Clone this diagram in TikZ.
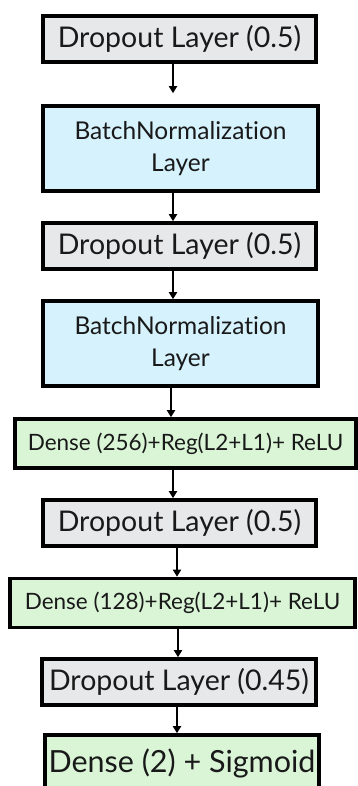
\documentclass[tikz,border=0pt]{standalone}
\usepackage{fontspec}
\setmainfont{Lato}[Ligatures=NoCommon]
\usetikzlibrary{arrows.meta}
\definecolor{dropgray}{HTML}{E7E8EA}
\definecolor{normblue}{HTML}{D5F2FD}
\definecolor{densegreen}{HTML}{D9F5D6}
\tikzset{layer/.style={draw=black,line width=3.6pt,inner sep=0pt,text=black!90}}
\begin{document}
\begin{tikzpicture}[x=1pt,y=-1pt,
    droplayer/.style={layer,fill=dropgray,minimum width=273pt,minimum height=46pt,font=\fontsize{28.5}{30}\selectfont},
    normlayer/.style={layer,fill=normblue,minimum width=275pt,minimum height=85pt,align=center,font=\fontsize{24.5}{32}\selectfont},
    denselayer/.style={layer,fill=densegreen,minimum height=49pt,font=\fontsize{22.5}{24}\selectfont},
    flow/.style={line width=2pt,-{Triangle[width=8pt,length=7pt]}}]
                \clip (0,0) rectangle (358,786);
                \fill[white] (0,0) rectangle (358,786);
                \node [droplayer] (drop1) at (179.5,39) {Dropout Layer (0.5)};
                \node [normlayer] (norm1) at (180.5,148.5) {BatchNormalization\\Layer};
                \node [droplayer] (drop2) at (179.5,246) {Dropout Layer (0.5)};
                \node [normlayer] (norm2) at (180.5,343.5) {BatchNormalization\\Layer};
                \node [denselayer,minimum width=341pt] (dense1) at (185.5,443.5) {Dense (256)+Reg(L2+L1)+ ReLU};
                \node [droplayer] (drop3) at (179.5,523) {Dropout Layer (0.5)};
                \node [denselayer,minimum width=345pt] (dense2) at (182.5,603) {Dense (128)+Reg(L2+L1)+ ReLU};
                \node [droplayer,minimum width=274pt] (drop4) at (179,682) {Dropout Layer (0.45)};
                \node [denselayer,minimum width=274pt,minimum height=56pt,font=\fontsize{30.5}{33}\selectfont] (dense3) at (182,763) {\raisebox{2pt}{Dense (2) + Sigmoid}};
                \draw [flow,shorten >=11pt] (173,0 |- drop1.south) -- (173,0 |- norm1.north);
                \foreach \a/\b/\x in {norm1/drop2/173,drop2/norm2/173,norm2/dense1/171,
                    dense1/drop3/173,drop3/dense2/177,dense2/drop4/178,drop4/dense3/177}
                    \draw [flow] (\x,0 |- \a.south) -- (\x,0 |- \b.north);
            \end{tikzpicture}
\end{document}
